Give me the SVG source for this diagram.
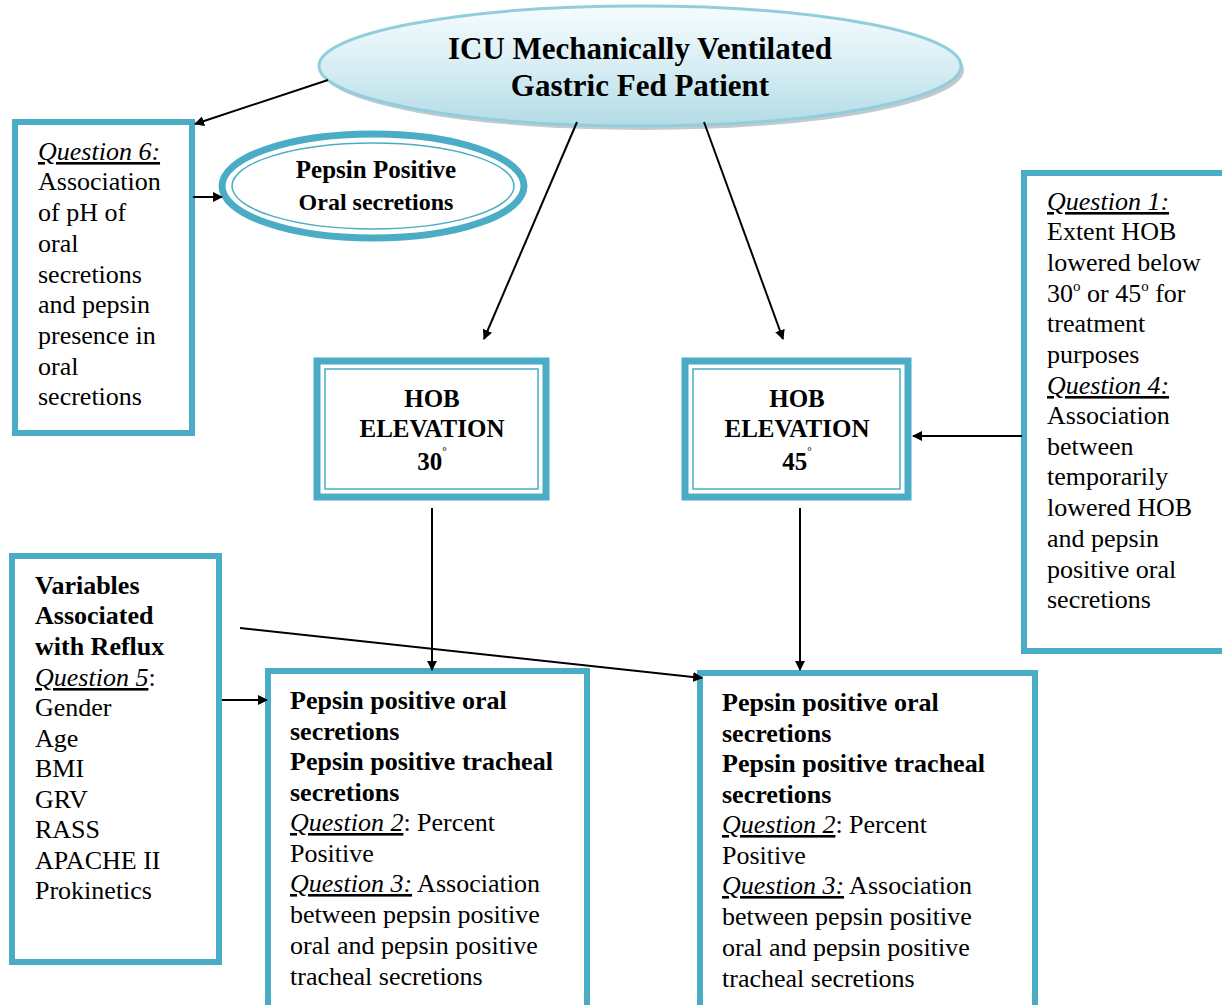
<svg xmlns="http://www.w3.org/2000/svg" width="1222" height="1005" viewBox="0 0 1222 1005">
<defs>
<linearGradient id="g1" x1="0" y1="0" x2="0" y2="1">
<stop offset="0" stop-color="#f7fcfd"/>
<stop offset="0.5" stop-color="#d8eef4"/>
<stop offset="1" stop-color="#b3dbe6"/>
</linearGradient>
<marker id="ah" markerWidth="10" markerHeight="10" refX="9" refY="5" orient="auto" markerUnits="userSpaceOnUse">
<path d="M0,0 L10,5 L0,10 z" fill="#000"/>
</marker>
</defs>
<rect width="1222" height="1005" fill="#fff"/>

<g id="main">
<ellipse cx="643" cy="70" rx="321" ry="60" fill="#9aa7ad" opacity="0.6"/>
<ellipse cx="640" cy="66" rx="321" ry="60" fill="url(#g1)" stroke="#92cddc" stroke-width="3"/>
<text font-family="Times New Roman, Liberation Serif, serif" font-weight="bold" font-size="31" x="640" y="59" text-anchor="middle">ICU Mechanically Ventilated</text>
<text font-family="Times New Roman, Liberation Serif, serif" font-weight="bold" font-size="31" x="640" y="96" text-anchor="middle">Gastric Fed Patient</text>
</g>

<g id="pepsin">
<ellipse cx="373" cy="186" rx="151" ry="52" fill="#fff" stroke="#4bacc6" stroke-width="7"/>
<ellipse cx="373" cy="186" rx="141" ry="43" fill="none" stroke="#4bacc6" stroke-width="1.5"/>
<text font-family="Times New Roman, Liberation Serif, serif" font-weight="bold" font-size="25" x="376" y="178" text-anchor="middle">Pepsin Positive</text>
<text font-family="Times New Roman, Liberation Serif, serif" font-weight="bold" font-size="24" x="376" y="210" text-anchor="middle">Oral secretions</text>
</g>

<g id="q6">
<rect x="15" y="122" width="177" height="311" fill="#fff" stroke="#4bacc6" stroke-width="6"/>
<text font-family="Times New Roman, Liberation Serif, serif" font-size="26"><tspan x="38" y="160" font-style="italic" text-decoration="underline">Question 6:</tspan><tspan x="38" y="190">Association</tspan><tspan x="38" y="221">of pH of</tspan><tspan x="38" y="252">oral</tspan><tspan x="38" y="283">secretions</tspan><tspan x="38" y="313">and pepsin</tspan><tspan x="38" y="344">presence in</tspan><tspan x="38" y="375">oral</tspan><tspan x="38" y="405">secretions</tspan></text>
</g>

<g id="hob30">
<rect x="317" y="361" width="229" height="136" fill="#fff" stroke="#4bacc6" stroke-width="7"/>
<rect x="325" y="369" width="213" height="120" fill="none" stroke="#4bacc6" stroke-width="1.5"/>
<text font-family="Times New Roman, Liberation Serif, serif" font-weight="bold" font-size="25" x="432" y="407" text-anchor="middle">HOB</text>
<text font-family="Times New Roman, Liberation Serif, serif" font-weight="bold" font-size="25" x="432" y="437" text-anchor="middle">ELEVATION</text>
<text font-family="Times New Roman, Liberation Serif, serif" font-weight="bold" font-size="25" x="432" y="470" text-anchor="middle">30<tspan font-size="11" dy="-15">&#176;</tspan></text>
</g>

<g id="hob45">
<rect x="685" y="361" width="223" height="136" fill="#fff" stroke="#4bacc6" stroke-width="7"/>
<rect x="693" y="369" width="207" height="120" fill="none" stroke="#4bacc6" stroke-width="1.5"/>
<text font-family="Times New Roman, Liberation Serif, serif" font-weight="bold" font-size="25" x="797" y="407" text-anchor="middle">HOB</text>
<text font-family="Times New Roman, Liberation Serif, serif" font-weight="bold" font-size="25" x="797" y="437" text-anchor="middle">ELEVATION</text>
<text font-family="Times New Roman, Liberation Serif, serif" font-weight="bold" font-size="25" x="797" y="470" text-anchor="middle">45<tspan font-size="11" dy="-15">&#176;</tspan></text>
</g>

<g id="q1q4">
<rect x="1024" y="173" width="204" height="478" fill="#fff" stroke="#4bacc6" stroke-width="6"/>
<text font-family="Times New Roman, Liberation Serif, serif" font-size="26"><tspan x="1047" y="210" font-style="italic" text-decoration="underline">Question 1:</tspan><tspan x="1047" y="240">Extent HOB</tspan><tspan x="1047" y="271">lowered below</tspan><tspan x="1047" y="302">30<tspan font-size="15" dy="-11">o</tspan><tspan dy="11"> or 45</tspan><tspan font-size="15" dy="-11">o</tspan><tspan dy="11"> for</tspan></tspan><tspan x="1047" y="332">treatment</tspan><tspan x="1047" y="363">purposes</tspan><tspan x="1047" y="394" font-style="italic" text-decoration="underline">Question 4:</tspan><tspan x="1047" y="424">Association</tspan><tspan x="1047" y="455">between</tspan><tspan x="1047" y="485">temporarily</tspan><tspan x="1047" y="516">lowered HOB</tspan><tspan x="1047" y="547">and pepsin</tspan><tspan x="1047" y="578">positive oral</tspan><tspan x="1047" y="608">secretions</tspan></text>
</g>

<g id="variables">
<rect x="12" y="556" width="207" height="406" fill="#fff" stroke="#4bacc6" stroke-width="6"/>
<text font-family="Times New Roman, Liberation Serif, serif" font-size="26"><tspan x="35" y="594" font-weight="bold">Variables</tspan><tspan x="35" y="624" font-weight="bold">Associated</tspan><tspan x="35" y="655" font-weight="bold">with Reflux</tspan><tspan x="35" y="686"><tspan font-style="italic" text-decoration="underline">Question 5</tspan>:</tspan><tspan x="35" y="716">Gender</tspan><tspan x="35" y="747">Age</tspan><tspan x="35" y="777">BMI</tspan><tspan x="35" y="808">GRV</tspan><tspan x="35" y="838">RASS</tspan><tspan x="35" y="869">APACHE II</tspan><tspan x="35" y="899">Prokinetics</tspan></text>
</g>

<g id="out30">
<rect x="268" y="671" width="319" height="345" fill="#fff" stroke="#4bacc6" stroke-width="6"/>
<text font-family="Times New Roman, Liberation Serif, serif" font-size="26"><tspan x="290" y="709" font-weight="bold">Pepsin positive oral</tspan><tspan x="290" y="740" font-weight="bold">secretions</tspan><tspan x="290" y="770" font-weight="bold">Pepsin positive tracheal</tspan><tspan x="290" y="801" font-weight="bold">secretions</tspan><tspan x="290" y="831"><tspan font-style="italic" text-decoration="underline">Question 2</tspan>: Percent</tspan><tspan x="290" y="862">Positive</tspan><tspan x="290" y="892"><tspan font-style="italic" text-decoration="underline">Question 3:</tspan> Association</tspan><tspan x="290" y="923">between pepsin positive</tspan><tspan x="290" y="954">oral and pepsin positive</tspan><tspan x="290" y="985">tracheal secretions</tspan></text>
</g>

<g id="out45">
<rect x="700" y="673" width="335" height="345" fill="#fff" stroke="#4bacc6" stroke-width="6"/>
<text font-family="Times New Roman, Liberation Serif, serif" font-size="26"><tspan x="722" y="711" font-weight="bold">Pepsin positive oral</tspan><tspan x="722" y="742" font-weight="bold">secretions</tspan><tspan x="722" y="772" font-weight="bold">Pepsin positive tracheal</tspan><tspan x="722" y="803" font-weight="bold">secretions</tspan><tspan x="722" y="833"><tspan font-style="italic" text-decoration="underline">Question 2</tspan>: Percent</tspan><tspan x="722" y="864">Positive</tspan><tspan x="722" y="894"><tspan font-style="italic" text-decoration="underline">Question 3:</tspan> Association</tspan><tspan x="722" y="925">between pepsin positive</tspan><tspan x="722" y="956">oral and pepsin positive</tspan><tspan x="722" y="987">tracheal secretions</tspan></text>
</g>

<g id="connectors" stroke="#000" stroke-width="2" marker-end="url(#ah)">
<line x1="328" y1="80" x2="195" y2="124"/>
<line x1="193" y1="197" x2="222" y2="197"/>
<line x1="577" y1="122" x2="484" y2="339"/>
<line x1="704" y1="122" x2="783" y2="339"/>
<line x1="432" y1="508" x2="432" y2="670"/>
<line x1="800" y1="508" x2="800" y2="670"/>
<line x1="1022" y1="436" x2="913" y2="436"/>
<line x1="222" y1="700" x2="267" y2="700"/>
<line x1="240" y1="628" x2="702" y2="678"/>
</g>
</svg>
